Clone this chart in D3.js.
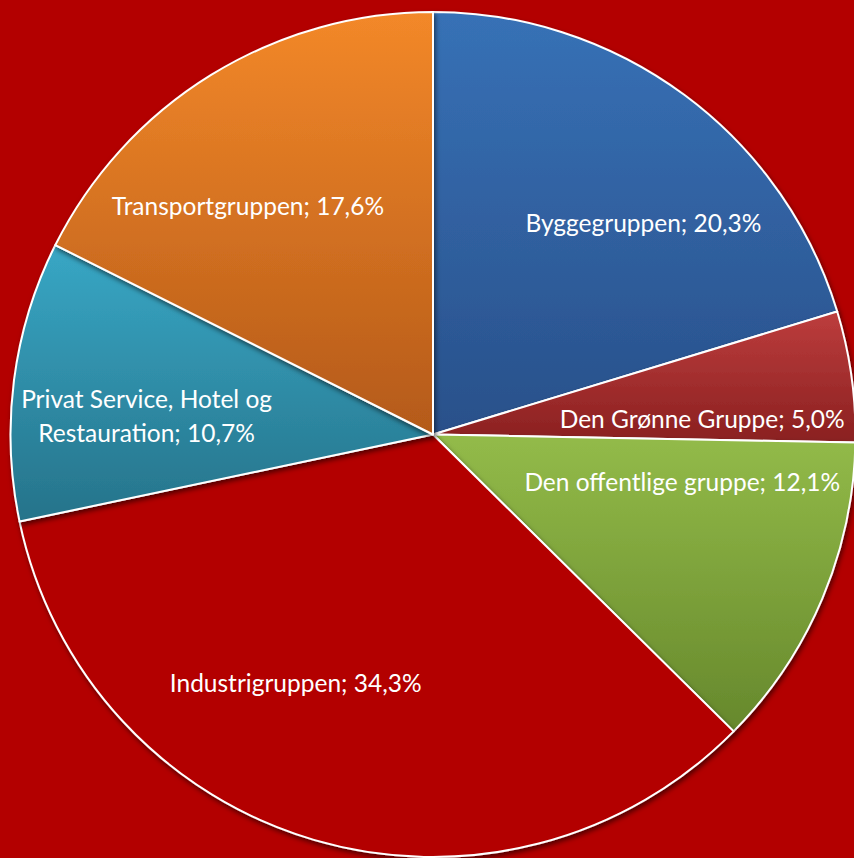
<!DOCTYPE html>
<html><head><meta charset="utf-8">
<script src="https://cdn.jsdelivr.net/npm/d3@7"></script>
<style>html,body{margin:0;padding:0;background:#B30000;}svg{display:block;}</style>
</head><body>
<svg id="chart" width="854" height="858"></svg>
<script>
const categories = ["Byggegruppen","Den Grønne Gruppe","Den offentlige gruppe","Industrigruppen","Privat Service, Hotel og Restauration","Transportgruppen"];
const values = [20.3, 5.0, 12.1, 34.3, 10.7, 17.6];
const valueLabels = ["20,3%","5,0%","12,1%","34,3%","10,7%","17,6%"];
const labelLines = [["Byggegruppen; 20,3%"],["Den Grønne Gruppe; 5,0%"],["Den offentlige gruppe; 12,1%"],["Industrigruppen; 34,3%"],["Privat Service, Hotel og","Restauration; 10,7%"],["Transportgruppen; 17,6%"]];

// styling / layout (not data)
const colorsTop = ["#3771B6","#BD3D3D","#93BB49","#B30000","#38A7C5","#F38829"];
const colorsBot = ["#29508A","#8A2020","#66882C","#B30000","#26738A","#B45A19"];
const labelOffsets = [[0.498,-0.50],[0.637,-0.036],[0.590,0.114],[-0.325,0.588],[-0.678,-0.043],[-0.438,-0.540]];

const W=854,H=858,cx=433,cy=434.5,R=422.5;
const svg=d3.select("#chart");
svg.append("rect").attr("width",W).attr("height",H).attr("fill","#B30000");
const defs=svg.append("defs");
values.forEach((v,i)=>{
  const g=defs.append("linearGradient").attr("id","g"+i).attr("x1",0).attr("y1",0).attr("x2",0).attr("y2",1);
  g.append("stop").attr("offset","0%").attr("stop-color",colorsTop[i]);
  g.append("stop").attr("offset","100%").attr("stop-color",colorsBot[i]);
});
const f=defs.append("filter").attr("id","sh").attr("x","-20%").attr("y","-20%").attr("width","140%").attr("height","140%");
f.append("feDropShadow").attr("dx",1.5).attr("dy",3).attr("stdDeviation",2.5).attr("flood-color","#000").attr("flood-opacity",0.55);

const pie=d3.pie().sort(null).value(d=>d)(values);
const arc=d3.arc().innerRadius(0).outerRadius(R);
const g=svg.append("g").attr("transform",`translate(${cx},${cy})`);
g.selectAll("path").data(pie).enter().append("path")
  .attr("d",arc).attr("fill",(d,i)=>`url(#g${i})`)
  .attr("stroke","#fff").attr("stroke-width",2).attr("stroke-linejoin","round")
  .attr("filter","url(#sh)");
const lg=g.append("g");
pie.forEach((d,i)=>{
  const [ox,oy]=labelOffsets[i];
  const lines=labelLines[i];
  const t=lg.append("text").attr("x",ox*R).attr("y",oy*R)
    .attr("text-anchor","middle").attr("fill","#fff")
    .attr("font-family","Lato, 'Open Sans', sans-serif").attr("font-size",24.5);
  const lh=34;
  lines.forEach((ln,j)=>{
    t.append("tspan").attr("x",ox*R).attr("y",oy*R+(j-(lines.length-1)/2)*lh).attr("dy","0.35em").text(ln);
  });
});
</script>
</body></html>
